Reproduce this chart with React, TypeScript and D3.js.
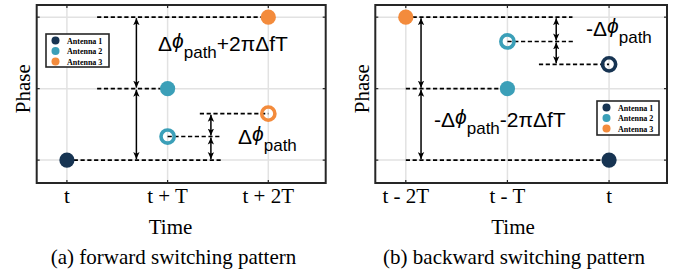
import React from "react";
import * as d3 from "d3";

const ticksA = ["t", "t + T", "t + 2T"];
const ticksB = ["t - 2T", "t - T", "t"];
const phaseTicks = [0, 1, 2];
const antennas = ["Antenna 1", "Antenna 2", "Antenna 3"];
const antennaColors = ["#173452", "#3b9fb8", "#f38b3c"];

// points: time index, phase, antenna index, hollow
const pointsA = [
  { t: 0, p: 0, a: 0, hollow: false },
  { t: 1, p: 1, a: 1, hollow: false },
  { t: 1, p: 0.33, a: 1, hollow: true },
  { t: 2, p: 2, a: 2, hollow: false },
  { t: 2, p: 0.65, a: 2, hollow: true },
];
const pointsB = [
  { t: 0, p: 2, a: 2, hollow: false },
  { t: 1, p: 1, a: 1, hollow: false },
  { t: 1, p: 1.66, a: 1, hollow: true },
  { t: 2, p: 0, a: 0, hollow: false },
  { t: 2, p: 1.34, a: 0, hollow: true },
];

const dashesA = [
  { p: 2, t1: 0.3, t2: 2 },
  { p: 1, t1: 0.3, t2: 1 },
  { p: 0, t1: 0, t2: 1.53 },
  { p: 0.33, t1: 1, t2: 1.53 },
  { p: 0.65, t1: 1.32, t2: 2 },
];
const dashesB = [
  { p: 2, t1: 0, t2: 1.64 },
  { p: 1.66, t1: 1, t2: 1.66 },
  { p: 1.34, t1: 1.31, t2: 2 },
  { p: 1, t1: 0, t2: 1 },
  { p: 0, t1: 0, t2: 2 },
];

const arrowsA = [
  { t: 0.69, p1: 2, p2: 1 },
  { t: 0.69, p1: 1, p2: 0 },
  { t: 1.43, p1: 0.65, p2: 0.33 },
  { t: 1.43, p1: 0.33, p2: 0 },
];
const arrowsB = [
  { t: 0.15, p1: 2, p2: 1 },
  { t: 0.15, p1: 1, p2: 0 },
  { t: 1.48, p1: 2, p2: 1.66 },
  { t: 1.48, p1: 1.66, p2: 1.34 },
];

// annotation: prefix, suffix
const labelsA = [
  { pre: "", post: "+2πΔfT" },
  { pre: "", post: "" },
];
const labelsB = [
  { pre: "-", post: "" },
  { pre: "-", post: "-2πΔfT" },
];

const captions = ["(a) forward switching pattern", "(b) backward switching pattern"];

const SANS = "'Liberation Sans', Arial, Helvetica, sans-serif";
const SERIF = "'Liberation Serif', 'Times New Roman', Times, serif";

function MathLabel({ x, y, pre, post }) {
  return (
    <text x={x} y={y} fontFamily={SANS} fontSize={21} fill="#000">
      <tspan>{pre}Δ</tspan>
      <tspan fontStyle="italic" dy={-3}>ϕ</tspan>
      <tspan fontSize={17} dy={10}>path</tspan>
      {post ? <tspan dy={-7}>{post}</tspan> : null}
    </text>
  );
}

function Panel({ x0, x1, ticks, points, dashes, arrows, labels, labelPos, legend, phaseX, timeX, captionX, caption }) {
  const top = 5, bottom = 183;
  const x = d3.scaleLinear().domain([-0.3, 2.57]).range([x0, x1]);
  const y = d3.scaleLinear().domain([-0.32, 2.17]).range([bottom, top]);
  const tickIdx = d3.range(ticks.length);
  return (
    <g>
      {tickIdx.map((i) => (
        <line key={"gx" + i} x1={x(i)} x2={x(i)} y1={top} y2={bottom} stroke="#e2e2e2" strokeWidth={1.5} />
      ))}
      {phaseTicks.map((p) => (
        <line key={"gy" + p} x1={x0} x2={x1} y1={y(p)} y2={y(p)} stroke="#e2e2e2" strokeWidth={1.5} />
      ))}
      {dashes.map((d, i) => (
        <line key={"d" + i} x1={x(d.t1)} x2={x(d.t2)} y1={y(d.p)} y2={y(d.p)} stroke="#000" strokeWidth={1.6} strokeDasharray="4.2,2.6" />
      ))}
      {arrows.map((a, i) => (
        <line key={"a" + i} x1={x(a.t)} x2={x(a.t)} y1={y(a.p1) + 1} y2={y(a.p2) - 1} stroke="#000" strokeWidth={1.5}
          markerStart="url(#ah)" markerEnd="url(#ah)" />
      ))}
      {points.map((pt, i) =>
        pt.hollow ? (
          <circle key={"p" + i} cx={x(pt.t)} cy={y(pt.p)} r={6.6} fill="none" stroke={antennaColors[pt.a]} strokeWidth={3.6} />
        ) : (
          <circle key={"p" + i} cx={x(pt.t)} cy={y(pt.p)} r={7.6} fill={antennaColors[pt.a]} />
        )
      )}
      {labels.map((l, i) => (
        <MathLabel key={"l" + i} x={labelPos[i][0]} y={labelPos[i][1]} pre={l.pre} post={l.post} />
      ))}
      <rect x={x0} y={top} width={x1 - x0} height={bottom - top} fill="none" stroke="#262626" strokeWidth={2} />
      {tickIdx.map((i) => (
        <g key={"tk" + i}>
          <line x1={x(i)} x2={x(i)} y1={bottom} y2={bottom - 3} stroke="#262626" strokeWidth={1.2} />
          <line x1={x(i)} x2={x(i)} y1={top} y2={top + 3} stroke="#262626" strokeWidth={1.2} />
          <text x={x(i)} y={203} textAnchor="middle" fontFamily={SERIF} fontSize={21} fill="#000">{ticks[i]}</text>
        </g>
      ))}
      {phaseTicks.map((p) => (
        <g key={"ty" + p}>
          <line x1={x0} x2={x0 + 3} y1={y(p)} y2={y(p)} stroke="#262626" strokeWidth={1.2} />
          <line x1={x1} x2={x1 - 3} y1={y(p)} y2={y(p)} stroke="#262626" strokeWidth={1.2} />
        </g>
      ))}
      <rect x={legend.x} y={legend.y} width={legend.w} height={legend.h} fill="#fff" stroke="#262626" strokeWidth={1.6} />
      {antennas.map((name, i) => (
        <g key={"lg" + i}>
          <circle cx={legend.x + 9.5} cy={legend.y + 6.5 + i * 10.5} r={4} fill={antennaColors[i]} />
          <text x={legend.x + 21} y={legend.y + 9.5 + i * 10.5} fontFamily={SERIF} fontWeight="bold" fontSize={8} fill="#000">{name}</text>
        </g>
      ))}
      <text transform={`translate(${phaseX},${y(1)}) rotate(-90)`} textAnchor="middle" fontFamily={SERIF} fontSize={21} fill="#000">Phase</text>
      <text x={timeX} y={234} textAnchor="middle" fontFamily={SERIF} fontSize={21} fill="#000">Time</text>
      <text x={captionX} y={264} textAnchor="middle" fontFamily={SERIF} fontSize={21} fill="#000">{caption}</text>
    </g>
  );
}

export default function App() {
  return (
    <svg width={677} height={276} style={{ position: "absolute", left: 0, top: 0, background: "#fff" }}>
      <defs>
        <marker id="ah" viewBox="0 0 10 10" refX={10} refY={5} markerUnits="userSpaceOnUse" markerWidth={7} markerHeight={7} orient="auto-start-reverse">
          <path d="M0,0.5 L10,5 L0,9.5 L2.5,5 Z" fill="#000" />
        </marker>
      </defs>
      <rect x={0} y={0} width={677} height={276} fill="#fff" />
      <Panel x0={36.7} x1={325.7} ticks={ticksA} points={pointsA} dashes={dashesA} arrows={arrowsA}
        labels={labelsA} labelPos={[[158, 51], [238, 144]]}
        legend={{ x: 46, y: 34, w: 63, h: 33 }} phaseX={30} timeX={170.5} captionX={173.5} caption={captions[0]} />
      <Panel x0={375.3} x1={667} ticks={ticksB} points={pointsB} dashes={dashesB} arrows={arrowsB}
        labels={labelsB} labelPos={[[586, 36], [434, 127]]}
        legend={{ x: 597, y: 101, w: 62, h: 34 }} phaseX={369} timeX={513} captionX={514} caption={captions[1]} />
    </svg>
  );
}
